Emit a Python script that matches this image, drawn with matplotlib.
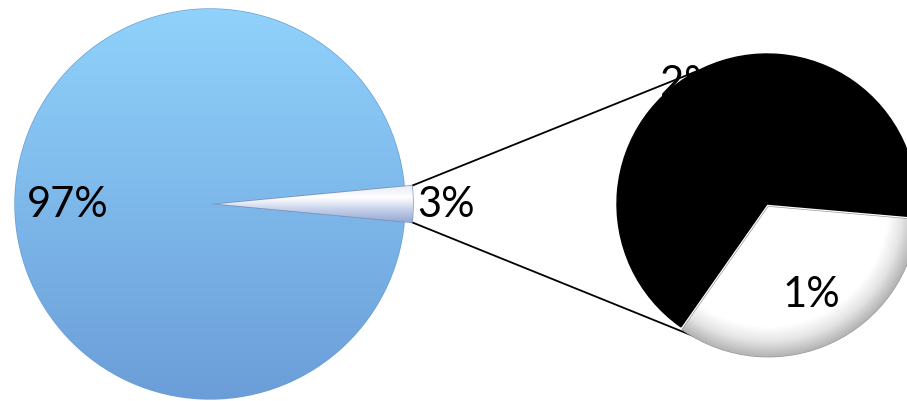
import matplotlib
matplotlib.use('Agg')
import matplotlib.pyplot as plt
import numpy as np
from matplotlib.colors import LinearSegmentedColormap

# main pie; the small group is broken out into the second pie
main_values = [3, 97]
main_labels = ['3%', '97%']
# breakdown of the 3% group
detail_values = [1, 2]
detail_labels = ['1%', '2%']

W, H = 907, 402
fig = plt.figure(figsize=(W / 100, H / 100), dpi=100)
ax = fig.add_axes([0, 0, 1, 1])
ax.axis('off')

font = ['Lato', 'DejaVu Sans']

main_c = (210, H - 205)
main_r = 195
detail_c = (767, H - 205)
detail_r = 150


def fill_gradient(w, colors, radial=False, inner=0.8, center=None, r=None):
    cmap = LinearSegmentedColormap.from_list('g', colors)
    n = 300
    if radial:
        cx, cy = center
        ext = [cx - r, cx + r, cy - r, cy + r]
        xx, yy = np.meshgrid(np.linspace(-1, 1, n), np.linspace(-1, 1, n))
        d = np.hypot(xx, yy)
        z = 1 - np.clip((d - inner) / (1 - inner), 0, 1)
    else:
        bb = w.get_path().get_extents()
        ext = [bb.x0, bb.x1, bb.y0, bb.y1]
        z = np.linspace(0, 1, n)[:, None] * np.ones((1, n))
    im = ax.imshow(z, extent=ext, origin='lower', cmap=cmap, vmin=0, vmax=1,
                   interpolation='bilinear', zorder=w.get_zorder() + 0.1)
    im.set_clip_path(w)


# ---- left pie ----
main_start = -main_values[0] / sum(main_values) * 360 / 2
wedges, _ = ax.pie(main_values, center=main_c, radius=main_r,
                   startangle=main_start, explode=[8, 0],
                   colors=['#d6dff2', '#7fb8ee'],
                   wedgeprops=dict(linewidth=1.0, zorder=2))
wedges[0].set_edgecolor('#7f90b8')
wedges[1].set_edgecolor('#6a9ed6')
fill_gradient(wedges[1], ['#6b9ed8', '#90d2fc'])
wedges[0].set_zorder(2.5)
fill_gradient(wedges[0], ['#97a9d4', '#c4d0ea', '#ffffff', '#e6ecf7'])

# ---- right pie ----
frac_small = detail_values[0] / sum(detail_values)
detail_start = 355 - frac_small * 360
dw, _ = ax.pie(detail_values, center=detail_c, radius=detail_r,
               startangle=detail_start, explode=[3, 0],
               colors=['#ffffff', '#000000'],
               wedgeprops=dict(linewidth=1.0, zorder=3))
dw[0].set_edgecolor('#9a9a9a')
dw[1].set_edgecolor('#000000')
fill_gradient(dw[0], ['#b4b4b4', '#e4e4e4', '#ffffff'], radial=True, inner=0.8,
              center=dw[0].center, r=detail_r)

# ---- connector lines ----
t1, t2 = wedges[0].theta1, wedges[0].theta2
wc = wedges[0].center
p_top = (wc[0] + main_r * np.cos(np.radians(t2)), wc[1] + main_r * np.sin(np.radians(t2)))
p_bot = (wc[0] + main_r * np.cos(np.radians(t1)), wc[1] + main_r * np.sin(np.radians(t1)))
q_top = (detail_c[0] + detail_r * np.cos(np.radians(117)), detail_c[1] + detail_r * np.sin(np.radians(117)))
q_bot = (detail_c[0] + detail_r * np.cos(np.radians(247)), detail_c[1] + detail_r * np.sin(np.radians(247)))
ax.plot([p_top[0], q_top[0]], [p_top[1], q_top[1]], color='black', lw=1.3, zorder=1)
ax.plot([p_bot[0], q_bot[0]], [p_bot[1], q_bot[1]], color='black', lw=1.3, zorder=1)


# ---- labels ----
def label_at(center, r, angle, dist, text, z=6):
    a = np.radians(angle)
    ax.text(center[0] + dist * r * np.cos(a), center[1] + dist * r * np.sin(a), text,
            ha='center', va='center', fontsize=30, family=font, color='black', zorder=z)


label_at(main_c, main_r, 180, 0.73, main_labels[1])
label_at(main_c, main_r, 0, 1.21, main_labels[0])
label_at(dw[0].center, detail_r, 296, 0.65, detail_labels[0])
label_at(detail_c, detail_r, 123, 0.96, detail_labels[1])

ax.set_xlim(0, W)
ax.set_ylim(0, H)
ax.set_aspect('equal')

fig.savefig('out.png', dpi=100, facecolor='white')
